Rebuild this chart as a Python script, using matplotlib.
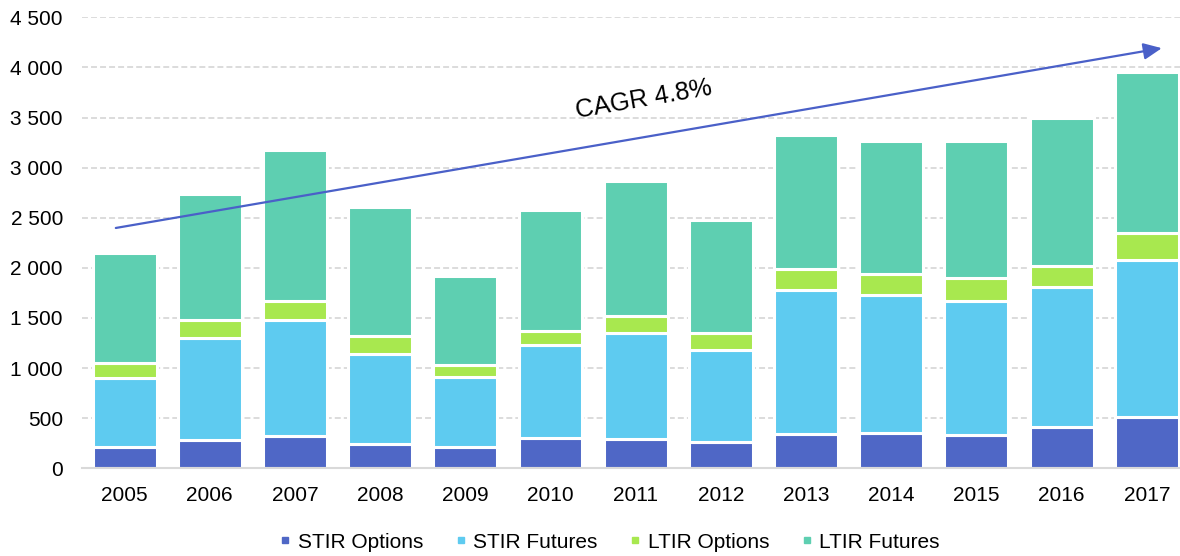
import matplotlib
matplotlib.use("Agg")
import matplotlib.pyplot as plt
from matplotlib.lines import Line2D
from matplotlib.ticker import FuncFormatter
import numpy as np

plt.rcParams['font.family'] = ['Liberation Sans', 'DejaVu Sans']

years = ['2005', '2006', '2007', '2008', '2009', '2010', '2011', '2012',
         '2013', '2014', '2015', '2016', '2017']
stir_options = [213, 284, 327, 243, 213, 302, 294, 262, 339, 352, 332, 414, 512]
stir_futures = [691, 1019, 1156, 901, 701, 925, 1056, 919, 1437, 1381, 1341, 1395, 1564]
ltir_options = [150, 180, 187, 173, 120, 147, 170, 173, 213, 203, 229, 210, 269]
ltir_futures = [1096, 1250, 1502, 1286, 887, 1199, 1345, 1122, 1332, 1325, 1359, 1479, 1605]
series_names = ['STIR Options', 'STIR Futures', 'LTIR Options', 'LTIR Futures']
colors = ['#4f67c6', '#5ecbf0', '#a8e84f', '#5ecfb1']
arrow_color = '#4a60c8'
cagr_label = 'CAGR 4.8%'
arrow_start = (-0.103, 2398)
arrow_end = (12.176, 4192)

fig = plt.figure(figsize=(11.8, 5.56), dpi=100)
ax = fig.add_axes([82/1180, 87.7/556, 1 - 82/1180, (468.3 - 17.3)/556])

x = np.arange(len(years))
bottom = np.zeros(len(years))
for vals, name, c in zip([stir_options, stir_futures, ltir_options, ltir_futures],
                         series_names, colors):
    ax.bar(x, vals, bottom=bottom, width=0.75, color=c, edgecolor='white',
           linewidth=2.2, label=name, zorder=3)
    bottom += np.array(vals)

ax.set_xlim(-0.5, 12.39)
ax.set_ylim(0, 4500)
ax.set_yticks(np.arange(0, 4501, 500))
ax.yaxis.set_major_formatter(FuncFormatter(lambda v, p: f'{int(v):,}'.replace(',', ' ')))
ax.set_xticks(x)
ax.set_xticklabels(years)
ax.tick_params(axis='both', length=0, labelsize=15, colors='#000000')
ax.tick_params(axis='y', pad=13.7)
ax.tick_params(axis='x', pad=13)

ax.yaxis.grid(True, color='#d9d9d9', linewidth=1.3, linestyle=(0, (3.3, 1.7)), zorder=0)
ax.set_axisbelow(True)
for s in ['top', 'right', 'left']:
    ax.spines[s].set_visible(False)
ax.spines['bottom'].set_color('#d9d9d9')
ax.spines['bottom'].set_linewidth(1.5)
ax.spines['bottom'].set_zorder(4)

ax.annotate('', xy=arrow_end, xytext=arrow_start,
            arrowprops=dict(arrowstyle='-|>,head_length=0.55,head_width=0.25',
                            color=arrow_color, lw=1.6, mutation_scale=20,
                            shrinkA=0, shrinkB=0), zorder=5)
ax.text(644/1180, (556 - 99)/556, cagr_label, transform=fig.transFigure,
        fontsize=18.3, rotation=9.8, ha='center', va='center', zorder=6)

handles = [Line2D([0], [0], marker='s', linestyle='none', markersize=4,
                  markerfacecolor=c, markeredgecolor=c) for c in colors]
fig.legend(handles, series_names, loc='center', bbox_to_anchor=(0.516, 0.025),
           ncol=4, frameon=False, fontsize=15, handlelength=0.7,
           handletextpad=0.25, columnspacing=1.45, borderpad=0, borderaxespad=0)

fig.savefig('out.png', dpi=100)
